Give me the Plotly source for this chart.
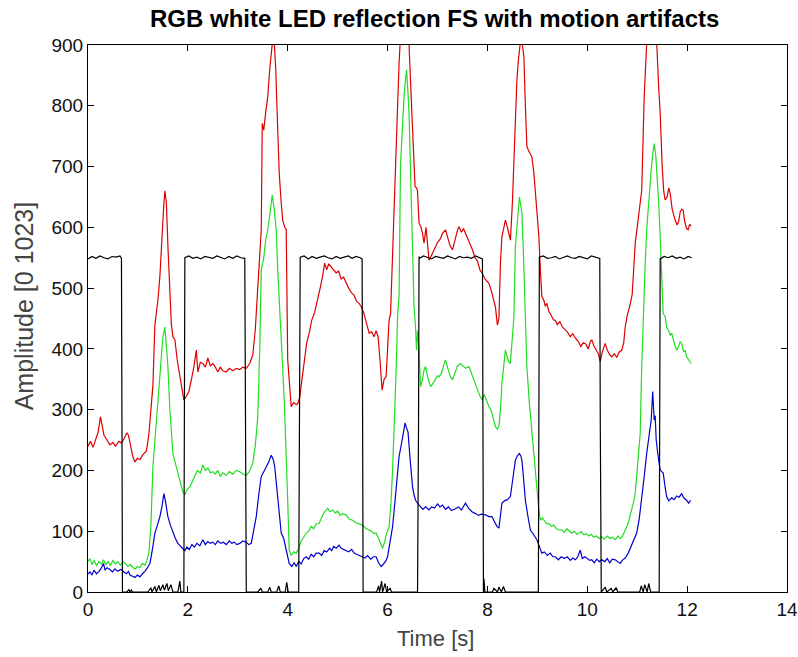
import plotly.graph_objects as go

# ---- Red channel (time [s], amplitude) ----
t_red = [0.00, 0.05, 0.10, 0.15, 0.20, 0.25, 0.28, 0.32, 0.38, 0.44, 0.50, 0.55, 0.62, 0.67, 0.72, 0.78,
         0.81, 0.85, 0.90, 0.94, 0.99, 1.04, 1.10, 1.17, 1.22, 1.26, 1.30, 1.34, 1.40, 1.44, 1.49, 1.52,
         1.54, 1.57, 1.60, 1.64, 1.67, 1.70, 1.74, 1.79, 1.84, 1.88, 1.92, 1.97, 2.02, 2.07, 2.12, 2.17,
         2.20, 2.25, 2.30, 2.35, 2.40, 2.45, 2.50, 2.55, 2.60, 2.65, 2.70, 2.77, 2.83, 2.90, 2.97, 3.04,
         3.10, 3.17, 3.24, 3.30, 3.35, 3.40, 3.45, 3.47, 3.49, 3.52, 3.56, 3.60, 3.64, 3.67, 3.70, 3.73,
         3.76, 3.80, 3.83, 3.87, 3.90, 3.94, 3.97, 4.00, 4.04, 4.07, 4.12, 4.17, 4.20, 4.24, 4.27, 4.33,
         4.38, 4.43, 4.48, 4.54, 4.60, 4.65, 4.70, 4.74, 4.78, 4.82, 4.87, 4.92, 4.97, 5.02, 5.07, 5.12,
         5.17, 5.22, 5.28, 5.33, 5.38, 5.43, 5.48, 5.52, 5.57, 5.63, 5.68, 5.73, 5.77, 5.81, 5.85, 5.89,
         5.93, 5.97, 6.00, 6.03, 6.06, 6.10, 6.14, 6.17, 6.20, 6.23, 6.26, 6.30, 6.35, 6.40, 6.43, 6.47,
         6.50, 6.53, 6.55, 6.58, 6.60, 6.63, 6.67, 6.70, 6.73, 6.77, 6.80, 6.83, 6.87, 6.92, 6.96, 7.00,
         7.05, 7.10, 7.16, 7.20, 7.25, 7.30, 7.35, 7.40, 7.43, 7.48, 7.52, 7.56, 7.60, 7.65, 7.70, 7.75,
         7.80, 7.85, 7.90, 7.95, 8.00, 8.03, 8.08, 8.12, 8.16, 8.20, 8.23, 8.26, 8.29, 8.33, 8.36, 8.40,
         8.43, 8.46, 8.50, 8.53, 8.56, 8.59, 8.62, 8.66, 8.70, 8.73, 8.76, 8.79, 8.83, 8.86, 8.89, 8.93,
         8.96, 9.00, 9.03, 9.06, 9.09, 9.13, 9.16, 9.19, 9.23, 9.28, 9.32, 9.36, 9.40, 9.45, 9.50, 9.55,
         9.60, 9.66, 9.71, 9.76, 9.82, 9.87, 9.92, 9.97, 10.02, 10.06, 10.09, 10.13, 10.18, 10.22, 10.26, 10.30,
         10.36, 10.40, 10.45, 10.49, 10.54, 10.59, 10.64, 10.69, 10.73, 10.76, 10.80, 10.85, 10.90, 10.96, 11.00, 11.05,
         11.09, 11.14, 11.17, 11.20, 11.25, 11.30, 11.35, 11.39, 11.43, 11.46, 11.50, 11.53, 11.56, 11.60, 11.63, 11.66,
         11.70, 11.73, 11.76, 11.80, 11.83, 11.86, 11.89, 11.92, 11.95, 11.99, 12.02, 12.05, 12.08]
red = [240, 248, 238, 252, 262, 288, 272, 258, 250, 242, 246, 240, 248, 245, 252, 262,
       258, 240, 222, 214, 220, 218, 226, 232, 260, 300, 340, 440, 480, 520, 612, 640,
       660, 640, 570, 500, 440, 420, 415, 380, 354, 330, 316, 322, 330, 349, 370, 398,
       362, 378, 376, 370, 385, 372, 376, 370, 362, 370, 364, 362, 368, 364, 368, 366,
       370, 368, 376, 390, 431, 500, 560, 596, 771, 760, 790, 815, 860, 892, 910, 905,
       860, 760, 689, 640, 612, 600, 596, 382, 330, 305, 312, 308, 310, 320, 340, 380,
       410, 426, 447, 460, 480, 500, 520, 541, 530, 540, 535, 530, 525, 528, 515, 518,
       508, 500, 492, 488, 478, 475, 468, 460, 445, 426, 428, 420, 430, 420, 380, 332,
       350, 354, 400, 447, 458, 560, 640, 705, 800, 870, 915, 940, 965, 935, 900, 820,
       760, 700, 667, 665, 660, 607, 600, 590, 574, 600, 570, 546, 552, 562, 568, 575,
       580, 590, 596, 585, 570, 563, 580, 595, 601, 592, 598, 590, 582, 575, 563, 550,
       545, 530, 524, 515, 510, 508, 495, 480, 469, 439, 450, 540, 585, 600, 612, 600,
       590, 579, 640, 705, 780, 842, 875, 905, 900, 881, 800, 733, 725, 720, 716, 690,
       661, 620, 585, 530, 486, 480, 470, 475, 462, 455, 448, 447, 440, 445, 436, 432,
       428, 420, 425, 418, 412, 404, 410, 408, 400, 412, 415, 405, 398, 392, 379, 395,
       409, 398, 390, 387, 392, 386, 395, 398, 410, 436, 455, 470, 490, 574, 600, 630,
       661, 815, 880, 920, 960, 975, 950, 905, 830, 788, 700, 660, 645, 650, 665, 656,
       630, 620, 612, 604, 610, 625, 630, 628, 610, 598, 596, 605, 602]

# ---- Green channel ----
t_green = [0.00, 0.04, 0.08, 0.12, 0.17, 0.22, 0.27, 0.31, 0.36, 0.40, 0.45, 0.50, 0.55, 0.60, 0.65, 0.70,
           0.75, 0.80, 0.85, 0.90, 0.95, 0.99, 1.04, 1.09, 1.14, 1.18, 1.22, 1.26, 1.30, 1.35, 1.40, 1.44,
           1.47, 1.50, 1.54, 1.57, 1.60, 1.64, 1.67, 1.70, 1.74, 1.80, 1.85, 1.90, 1.94, 1.98, 2.04, 2.09,
           2.14, 2.19, 2.25, 2.30, 2.35, 2.40, 2.45, 2.50, 2.55, 2.60, 2.65, 2.70, 2.77, 2.83, 2.90, 2.97,
           3.04, 3.10, 3.17, 3.23, 3.30, 3.35, 3.40, 3.44, 3.47, 3.52, 3.56, 3.60, 3.64, 3.69, 3.73, 3.77,
           3.80, 3.83, 3.88, 3.93, 3.97, 4.00, 4.03, 4.07, 4.12, 4.17, 4.22, 4.27, 4.32, 4.37, 4.42, 4.47,
           4.52, 4.57, 4.63, 4.68, 4.72, 4.76, 4.80, 4.85, 4.90, 4.95, 5.00, 5.05, 5.10, 5.17, 5.23, 5.30,
           5.36, 5.43, 5.50, 5.56, 5.62, 5.68, 5.73, 5.77, 5.82, 5.86, 5.90, 5.94, 5.98, 6.03, 6.07, 6.10,
           6.13, 6.17, 6.20, 6.23, 6.26, 6.30, 6.33, 6.36, 6.38, 6.41, 6.43, 6.47, 6.50, 6.53, 6.56, 6.58,
           6.60, 6.63, 6.66, 6.70, 6.73, 6.76, 6.80, 6.83, 6.86, 6.90, 6.95, 7.00, 7.03, 7.08, 7.12, 7.16,
           7.20, 7.25, 7.30, 7.35, 7.40, 7.46, 7.51, 7.56, 7.63, 7.68, 7.72, 7.76, 7.80, 7.85, 7.90, 7.93,
           7.97, 8.03, 8.08, 8.12, 8.16, 8.20, 8.23, 8.26, 8.29, 8.33, 8.36, 8.40, 8.43, 8.46, 8.50, 8.53,
           8.56, 8.60, 8.64, 8.66, 8.69, 8.72, 8.76, 8.79, 8.84, 8.89, 8.94, 8.99, 9.03, 9.06, 9.10, 9.15,
           9.19, 9.23, 9.28, 9.33, 9.38, 9.43, 9.49, 9.54, 9.59, 9.64, 9.69, 9.74, 9.79, 9.83, 9.88, 9.93,
           9.98, 10.03, 10.08, 10.13, 10.18, 10.24, 10.29, 10.34, 10.40, 10.45, 10.50, 10.56, 10.61, 10.66, 10.70, 10.75,
           10.79, 10.82, 10.87, 10.92, 10.96, 11.01, 11.06, 11.09, 11.12, 11.16, 11.19, 11.23, 11.27, 11.29, 11.32, 11.34,
           11.37, 11.39, 11.43, 11.46, 11.49, 11.52, 11.56, 11.59, 11.63, 11.66, 11.69, 11.73, 11.76, 11.79, 11.83, 11.86,
           11.89, 11.93, 11.96, 11.99, 12.03, 12.06, 12.08]
green = [50, 55, 45, 52, 44, 50, 46, 53, 45, 50, 44, 52, 46, 50, 44, 50,
         47, 42, 45, 40, 38, 42, 40, 47, 44, 52, 65, 110, 206, 260, 316, 370,
         398, 420, 436, 410, 371, 300, 261, 228, 215, 195, 180, 165, 160, 168, 173, 182,
         190, 200, 196, 209, 200, 204, 196, 198, 194, 200, 190, 196, 192, 198, 194, 200,
         198, 194, 192, 198, 212, 240, 288, 400, 530, 550, 580, 596, 620, 653, 630, 596,
         530, 470, 400, 316, 230, 151, 69, 60, 66, 64, 72, 84, 90, 97, 100, 108,
         104, 112, 113, 122, 130, 134, 138, 132, 135, 130, 133, 126, 129, 127, 120, 118,
         114, 112, 110, 105, 102, 100, 96, 97, 88, 80, 72, 82, 96, 107, 150, 200,
         261, 360, 453, 486, 705, 780, 815, 845, 859, 820, 788, 660, 541, 470, 436, 398,
         430, 400, 338, 350, 365, 371, 355, 345, 338, 342, 350, 356, 354, 360, 372, 382,
         370, 356, 349, 362, 372, 376, 372, 368, 371, 360, 350, 343, 335, 322, 316, 325,
         318, 305, 298, 285, 272, 268, 272, 300, 343, 375, 398, 385, 378, 376, 420, 453,
         568, 610, 650, 640, 623, 560, 436, 371, 310, 261, 210, 162, 135, 118, 122, 116,
         112, 113, 108, 110, 104, 102, 102, 98, 104, 100, 97, 100, 95, 97, 99, 94,
         96, 92, 95, 90, 92, 88, 91, 87, 92, 88, 90, 86, 92, 88, 91, 100,
         108, 113, 130, 145, 162, 210, 261, 371, 458, 540, 596, 640, 690, 705, 725, 738,
         720, 696, 640, 585, 520, 458, 453, 435, 430, 422, 426, 410, 404, 398, 404, 412,
         409, 395, 398, 387, 382, 379, 376]

# ---- Blue channel ----
t_blue = [0.00, 0.04, 0.08, 0.12, 0.17, 0.22, 0.27, 0.31, 0.34, 0.38, 0.44, 0.49, 0.54, 0.59, 0.63, 0.67,
          0.72, 0.77, 0.81, 0.84, 0.89, 0.94, 0.99, 1.04, 1.09, 1.14, 1.19, 1.24, 1.29, 1.34, 1.39, 1.44,
          1.48, 1.52, 1.55, 1.58, 1.60, 1.65, 1.70, 1.75, 1.80, 1.85, 1.90, 1.94, 1.98, 2.03, 2.08, 2.13,
          2.18, 2.24, 2.30, 2.35, 2.40, 2.45, 2.50, 2.55, 2.60, 2.66, 2.71, 2.77, 2.83, 2.88, 2.93, 2.98,
          3.04, 3.10, 3.17, 3.22, 3.27, 3.32, 3.37, 3.42, 3.47, 3.52, 3.57, 3.62, 3.67, 3.71, 3.74, 3.77,
          3.80, 3.84, 3.87, 3.92, 3.97, 4.03, 4.08, 4.13, 4.17, 4.22, 4.27, 4.32, 4.37, 4.42, 4.47, 4.52,
          4.57, 4.63, 4.68, 4.73, 4.78, 4.84, 4.88, 4.92, 4.97, 5.03, 5.07, 5.12, 5.17, 5.22, 5.28, 5.33,
          5.38, 5.43, 5.50, 5.55, 5.60, 5.66, 5.72, 5.77, 5.82, 5.87, 5.92, 5.97, 6.00, 6.05, 6.10, 6.15,
          6.19, 6.23, 6.27, 6.31, 6.35, 6.38, 6.41, 6.45, 6.50, 6.53, 6.56, 6.61, 6.66, 6.71, 6.76, 6.83,
          6.88, 6.94, 7.00, 7.05, 7.10, 7.16, 7.22, 7.28, 7.36, 7.42, 7.48, 7.56, 7.62, 7.69, 7.76, 7.82,
          7.88, 7.96, 8.03, 8.09, 8.14, 8.19, 8.23, 8.26, 8.29, 8.34, 8.40, 8.46, 8.51, 8.56, 8.60, 8.64,
          8.67, 8.69, 8.72, 8.76, 8.81, 8.86, 8.92, 8.99, 9.04, 9.09, 9.14, 9.20, 9.26, 9.31, 9.36, 9.42,
          9.48, 9.54, 9.60, 9.66, 9.71, 9.76, 9.81, 9.86, 9.90, 9.95, 10.00, 10.05, 10.09, 10.14, 10.19, 10.24,
          10.29, 10.35, 10.40, 10.45, 10.50, 10.56, 10.61, 10.66, 10.70, 10.76, 10.82, 10.88, 10.94, 10.99, 11.04, 11.09,
          11.14, 11.19, 11.23, 11.28, 11.31, 11.34, 11.36, 11.38, 11.42, 11.46, 11.49, 11.52, 11.56, 11.59, 11.63, 11.69,
          11.74, 11.79, 11.84, 11.89, 11.93, 11.99, 12.03, 12.07]
blue = [30, 33, 28, 36, 30, 34, 40, 47, 36, 40, 37, 33, 38, 34, 36, 37,
        33, 30, 34, 28, 26, 24, 28, 25, 30, 34, 40, 47, 70, 97, 110, 124,
        140, 162, 150, 135, 124, 110, 97, 88, 80, 76, 72, 68, 74, 70, 78, 74,
        80, 76, 86, 78, 83, 80, 82, 78, 84, 80, 82, 78, 84, 80, 82, 78,
        80, 84, 82, 78, 80, 100, 124, 160, 190, 198, 206, 214, 225, 218, 206, 180,
        151, 120, 97, 88, 70, 47, 42, 48, 42, 50, 46, 55, 58, 54, 62, 58,
        64, 64, 60, 68, 66, 72, 68, 75, 72, 77, 72, 70, 69, 66, 70, 64,
        62, 60, 58, 56, 60, 54, 58, 58, 48, 42, 46, 52, 58, 80, 107, 150,
        190, 223, 240, 260, 278, 270, 263, 220, 173, 160, 151, 145, 140, 136, 140, 135,
        140, 138, 145, 140, 143, 136, 140, 134, 137, 140, 135, 146, 138, 132, 129, 126,
        128, 127, 124, 124, 116, 108, 105, 125, 146, 150, 152, 157, 190, 217, 224, 228,
        224, 217, 190, 151, 125, 102, 95, 86, 75, 64, 66, 60, 64, 58, 58, 53,
        58, 55, 58, 52, 56, 53, 58, 69, 55, 58, 55, 52, 53, 48, 54, 50,
        53, 50, 55, 48, 54, 53, 50, 47, 52, 56, 64, 75, 88, 97, 120, 151,
        190, 228, 250, 283, 330, 283, 290, 250, 223, 201, 198, 196, 172, 157, 150, 155,
        152, 158, 156, 162, 155, 151, 146, 151]

# ---- Synchronisation square wave (black) ----
t_sync = [0.00, 0.08, 0.16, 0.24, 0.32, 0.40, 0.48, 0.56, 0.64, 0.67, 0.68, 0.69,
          0.78, 0.82, 0.84, 0.87, 0.89, 1.20, 1.26, 1.28, 1.34, 1.37, 1.42, 1.45, 1.50, 1.53,
          1.58, 1.61, 1.66, 1.70, 1.80, 1.84, 1.86, 1.92, 1.93, 1.94,
          2.02, 2.10, 2.18, 2.26, 2.34, 2.42, 2.50, 2.58, 2.66, 2.74, 2.82, 2.90, 2.98, 3.06, 3.14,
          3.15, 3.16, 3.17, 3.40, 3.46, 3.49, 3.60, 3.64, 3.67, 3.78, 3.82, 3.85, 3.95, 3.98, 4.01,
          4.22, 4.23, 4.25, 4.33, 4.41, 4.49, 4.57, 4.65, 4.73, 4.81, 4.89, 4.97, 5.05, 5.13, 5.21,
          5.29, 5.37, 5.45, 5.49, 5.50, 5.51, 5.78, 5.82, 5.84, 5.88, 5.90, 5.95, 5.98, 6.05, 6.08,
          6.60, 6.62, 6.63, 6.64, 6.72, 6.80, 6.88, 6.96, 7.04, 7.12, 7.20, 7.28, 7.36, 7.44, 7.52,
          7.60, 7.68, 7.76, 7.84, 7.90, 7.91, 7.92, 7.93, 7.95, 8.10, 8.13, 8.20, 8.23, 8.28, 8.32,
          8.36, 8.40, 9.02, 9.03, 9.04, 9.12, 9.20, 9.28, 9.36, 9.44, 9.52, 9.60, 9.68, 9.76, 9.84,
          9.92, 10.00, 10.08, 10.16, 10.25, 10.26, 10.27, 10.28, 10.36, 10.39, 10.48, 10.51, 10.58,
          10.61, 11.05, 11.08, 11.12, 11.15, 11.20, 11.23, 11.27, 11.44, 11.45, 11.46, 11.54, 11.62,
          11.70, 11.78, 11.86, 11.94, 12.02, 12.09]
sync = [548, 552, 549, 553, 550, 548, 552, 551, 553, 549, 278, 0,
        0, 4, 0, 3, 0, 0, 7, 0, 9, 0, 11, 2, 12, 3,
        14, 2, 12, 0, 0, 18, 0, 0, 275, 550,
        553, 549, 551, 548, 552, 550, 549, 553, 550, 548, 552, 549, 553, 550, 549,
        278, 0, 0, 0, 6, 0, 0, 8, 0, 0, 10, 0, 0, 16, 0,
        0, 275, 551, 553, 548, 552, 549, 551, 553, 550, 548, 552, 549, 551, 553,
        549, 552, 550, 548, 278, 0, 0, 10, 0, 18, 0, 14, 0, 6, 0,
        0, 275, 552, 549, 553, 550, 548, 552, 551, 549, 553, 550, 548, 552, 550,
        551, 549, 553, 550, 548, 278, 0, 22, 0, 0, 6, 0, 8, 0, 9,
        0, 0, 0, 275, 551, 553, 549, 550, 552, 548, 551, 553, 550, 549, 552,
        550, 548, 553, 551, 549, 278, 0, 0, 8, 0, 6, 0, 7,
        0, 0, 10, 0, 12, 0, 14, 0, 0, 275, 548, 552, 550,
        553, 549, 551, 548, 552, 550]

x_ticks = [0, 2, 4, 6, 8, 10, 12, 14]
y_ticks = [0, 100, 200, 300, 400, 500, 600, 700, 800, 900]

title_text = "RGB white LED reflection FS with motion artifacts"
x_label = "Time [s]"
y_label = "Amplitude [0 1023]"

FONT = "Liberation Sans, Arial, sans-serif"

fig = go.Figure()
fig.add_trace(go.Scatter(x=t_red, y=red, mode="lines",
                         line=dict(color="#dd0000", width=1.2), showlegend=False))
fig.add_trace(go.Scatter(x=t_green, y=green, mode="lines",
                         line=dict(color="#22dd22", width=1.2), showlegend=False))
fig.add_trace(go.Scatter(x=t_blue, y=blue, mode="lines",
                         line=dict(color="#0000cc", width=1.2), showlegend=False))
fig.add_trace(go.Scatter(x=t_sync, y=sync, mode="lines",
                         line=dict(color="#000000", width=1.2), showlegend=False))

axis_common = dict(
    showline=True, linecolor="black", linewidth=1, mirror="ticks",
    ticks="inside", ticklen=6, tickcolor="black", tickwidth=1,
    showgrid=False, zeroline=False, ticklabeloverflow="allow", automargin=False,
    tickfont=dict(family=FONT, size=19, color="#111111"),
)

fig.update_xaxes(range=[0, 14], tickvals=x_ticks, **axis_common)
fig.update_yaxes(range=[0, 900], tickvals=y_ticks, **axis_common)

fig.update_layout(
    width=798, height=657,
    margin=dict(l=88, r=11, t=45, b=65),
    plot_bgcolor="white", paper_bgcolor="white",
    annotations=[
        dict(text=f"<b>{title_text}</b>", xref="paper", yref="paper", x=0.495, y=1.049,
             xanchor="center", yanchor="middle", showarrow=False,
             font=dict(family=FONT, size=24, color="black")),
        dict(text=x_label, xref="paper", yref="paper", x=0.497, y=-0.085,
             xanchor="center", yanchor="middle", showarrow=False,
             font=dict(family=FONT, size=22, color="#444444")),
        dict(text=y_label, xref="paper", yref="paper", x=-0.091, y=0.523,
             xanchor="center", yanchor="middle", showarrow=False, textangle=-90,
             font=dict(family=FONT, size=25, color="#444444")),
    ],
)

fig.write_html("out.html")
